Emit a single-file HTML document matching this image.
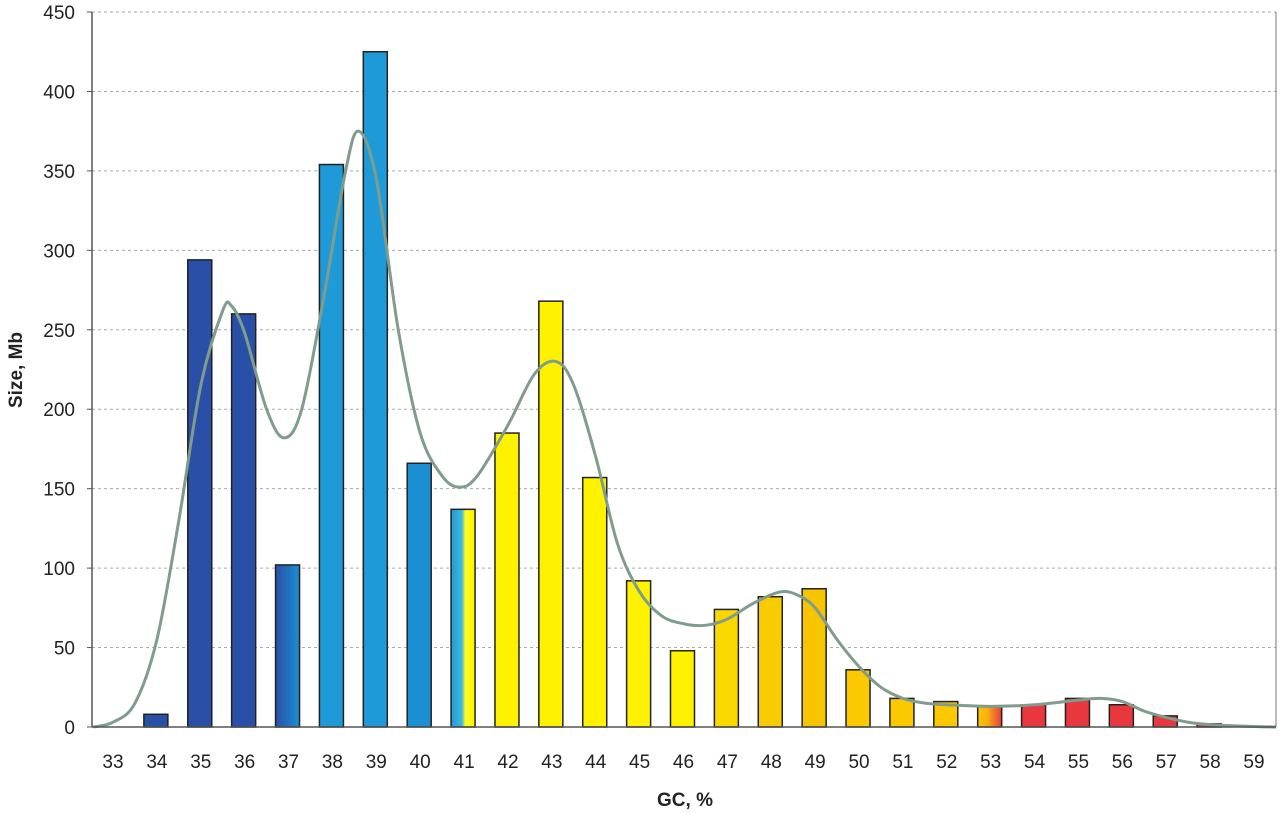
<!DOCTYPE html>
<html><head><meta charset="utf-8"><style>
html,body{margin:0;padding:0;background:#fff;}
svg{display:block;font-family:"Liberation Sans",Arial,sans-serif;}
</style></head><body>
<svg id="chart" width="1280" height="813">
<defs>
<linearGradient id="g37" x1="0" x2="1"><stop offset="0" stop-color="#2a4fa6"/><stop offset="1" stop-color="#1c8ed2"/></linearGradient>
<linearGradient id="g41" x1="0" x2="1"><stop offset="0" stop-color="#1e9ad8"/><stop offset="0.45" stop-color="#40b8e0"/><stop offset="0.6" stop-color="#ffff20"/><stop offset="1" stop-color="#fff000"/></linearGradient>
<linearGradient id="g53" x1="0" x2="1"><stop offset="0" stop-color="#fcc400"/><stop offset="0.4" stop-color="#f8b010"/><stop offset="1" stop-color="#e83a3e"/></linearGradient>
</defs>
<g id="grid"></g>
<g id="bars"></g>
<path id="curve" fill="none" stroke="#7f9c8c" stroke-width="3"/>
<g id="axes"></g>
<text x="685" y="806" text-anchor="middle" font-size="19" font-weight="bold" fill="#222">GC, %</text>
<text transform="translate(22,370) rotate(-90)" text-anchor="middle" font-size="19" font-weight="bold" fill="#222">Size, Mb</text>
</svg>
<script>
const categories=[33,34,35,36,37,38,39,40,41,42,43,44,45,46,47,48,49,50,51,52,53,54,55,56,57,58,59];
const sizes=[0,8,294,260,102,354,425,166,137,185,268,157,92,48,74,82,87,36,18,16,13,14,18,14,7,2,0];
const barFills=["#2a4fa6","#2a4fa6","#2a4fa6","#2a4fa6","url(#g37)","#1e9ad8","#1e9ad8","#1b8fd2","url(#g41)","#fff200","#fff200","#fff200","#fff200","#fff200","#fbd800","#f8cc00","#f6c400","#fcc800","#fcc800","#fcc800","url(#g53)","#e8383e","#e8383e","#e8383e","#e8383e","#e8383e","#e8383e"];
const curveX=[32.55,33,33.5,34,34.5,35,35.5,35.7,36,36.5,36.9,37.3,37.8,38.3,38.6,39,39.5,40,40.5,40.9,41.3,42,42.6,43.1,43.5,44,44.5,45,45.5,46,46.5,47,47.6,48.2,48.6,49,49.5,50,50.5,51,51.5,52,53,54,55,55.5,56,56.5,57,57.5,58,59,59.5];
const curveY=[0,3,15,55,130,215,262,265,248,200,182,200,270,350,375,345,250,185,158,151,158,190,222,230,215,170,115,85,70,65,64,68,78,85,83,75,55,38,25,18,15,14,13,14,17,18,16,10,6,3,1.5,0.3,0];
const yTicks=[0,50,100,150,200,250,300,350,400,450];
const NS="http://www.w3.org/2000/svg";
const L=92,R=1276,T=12,B=727;
const step=(1254-113)/26;
function xs(c){return 113+(c-33)*step;}
function ys(v){return B-(v/450)*(B-T);}
function mk(tag,attrs,parent){const e=document.createElementNS(NS,tag);for(const k in attrs)e.setAttribute(k,attrs[k]);parent.appendChild(e);return e;}
const grid=document.getElementById('grid'),bars=document.getElementById('bars'),axes=document.getElementById('axes');
yTicks.forEach(t=>{
 if(t>0){const g=mk('line',{x1:L,x2:R,y1:ys(t),y2:ys(t),stroke:'#aaa','stroke-width':1,'stroke-dasharray':'3,3'},grid);
 
 }
 const tl=mk('text',{x:75,y:ys(t)+7,'text-anchor':'end','font-size':19,fill:'#222'},axes);tl.textContent=t;
 
 
 mk('line',{x1:L-5,x2:L,y1:ys(t),y2:ys(t),stroke:'#555'},axes);
});
categories.forEach((c,i)=>{
 if(sizes[i]>0){const r=mk('rect',{x:xs(c)-13,y:ys(sizes[i]),width:24,height:B-ys(sizes[i]),fill:barFills[i],stroke:'#222','stroke-width':1.5},bars);
 
 }
 const tl=mk('text',{x:xs(c),y:768,'text-anchor':'middle','font-size':19,fill:'#222'},axes);tl.textContent=c;
 
 
});
const ax=mk('line',{x1:L,x2:R,y1:B,y2:B,stroke:'#555','stroke-width':1.5},axes);


const ay=mk('line',{x1:L,x2:L,y1:T,y2:B,stroke:'#555','stroke-width':1.5},axes);


const ar=mk('line',{x1:R,x2:R,y1:T,y2:B,stroke:'#777','stroke-width':1},axes);


const P=curveX.map((c,i)=>[xs(c),ys(curveY[i])]);
let d='M'+P[0][0]+','+P[0][1];
for(let i=0;i<P.length-1;i++){
 const p0=P[Math.max(0,i-1)],p1=P[i],p2=P[i+1],p3=P[Math.min(P.length-1,i+2)];
 const c1=[p1[0]+(p2[0]-p0[0])/6,p1[1]+(p2[1]-p0[1])/6];
 const c2=[p2[0]-(p3[0]-p1[0])/6,p2[1]-(p3[1]-p1[1])/6];
 d+=' C'+c1+' '+c2+' '+p2;
}
document.getElementById('curve').setAttribute('d',d);
</script>
</body></html>
